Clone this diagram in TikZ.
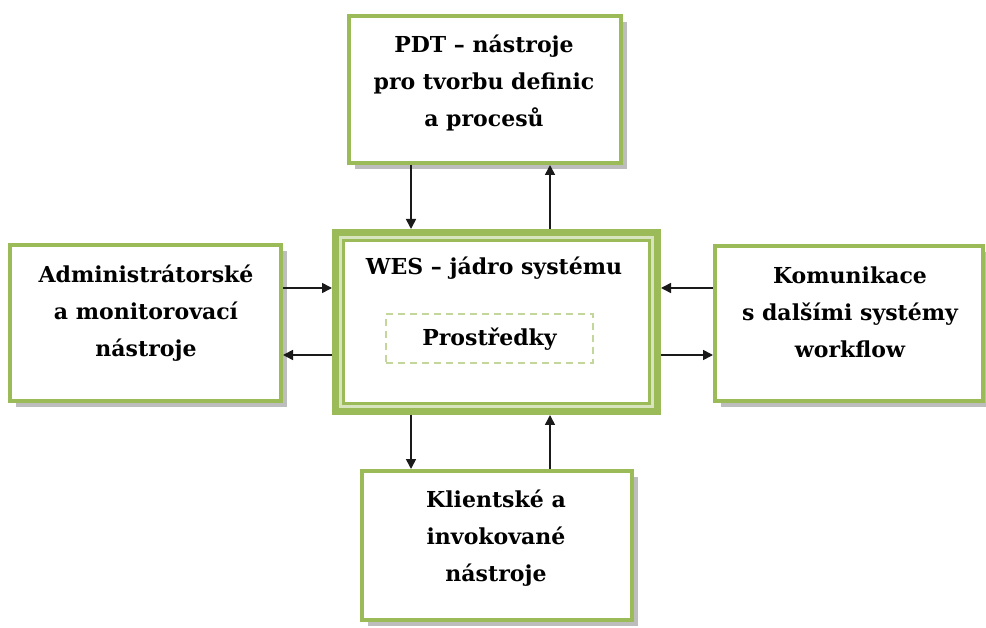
\documentclass[tikz,border=0pt]{standalone}
\usepackage{fontspec}
\setmainfont{DejaVu Serif}
\usetikzlibrary{arrows.meta,shadows}
\definecolor{wgreen}{HTML}{9BBB59}
\definecolor{wlight}{HTML}{D7E4BD}
\definecolor{wdash}{HTML}{C3D69B}
\definecolor{shgray}{HTML}{BDBDBD}
\definecolor{arrowc}{HTML}{1A1A1A}
\begin{document}
\begin{tikzpicture}[x=1pt,y=-1pt,
  gbox/.style={draw=wgreen, line width=4pt, fill=white, rectangle, inner sep=0pt},
  shbox/.style={drop shadow={shadow xshift=6pt, shadow yshift=-6pt, fill=shgray, opacity=1}},
  txt/.style={align=center, inner sep=0pt, font=\fontsize{22}{37}\selectfont\bfseries},
  arr/.style={draw=arrowc, line width=1.6pt, -{Triangle[length=10pt,width=10pt]}}
]
\useasboundingbox (0,0) rectangle (986,628);
\fill[white] (0,0) rectangle (986,628);
% boxes
\node[gbox, shbox, minimum width=272pt, minimum height=147pt] (pdt) at (485,89.5) {};
\node[gbox, shbox, minimum width=271pt, minimum height=156pt] (adm) at (145.5,323) {};
\node[gbox, shbox, minimum width=268pt, minimum height=155pt] (kom) at (849,323.5) {};
\node[gbox, shbox, minimum width=270pt, minimum height=149pt] (kli) at (497,545.5) {};
% WES double frame
\node[draw=wgreen, fill=wlight, line width=7pt, rectangle, inner sep=0pt,
      minimum width=322pt, minimum height=179pt] (wes) at (496.5,322) {};
\node[draw=wgreen, fill=white, line width=3pt, rectangle, inner sep=0pt,
      minimum width=306pt, minimum height=163pt] (wesin) at (496.5,322) {};
\node[draw=wdash, line width=2pt, dash pattern=on 7pt off 5pt, rectangle, inner sep=0pt,
      minimum width=207pt, minimum height=49pt] (prost) at (489.5,338.5) {};
% texts
\node[txt] (pdtt) at (484,83) {PDT – nástroje\\pro tvorbu definic\\a procesů};
\node[txt] (admt) at (146,313) {Administrátorské\\a monitorovací\\nástroje};
\node[txt] (komt) at (850,312) {Komunikace\\s dalšími systémy\\workflow};
\node[txt] (klit) at (496,538) {Klientské a\\invokované\\nástroje};
\node[txt] (west) at (494,268) {WES – jádro systému};
\node[txt] (prostt) at (489.5,339) {Prostředky};
% connectors
\coordinate (xa) at (411,0);
\coordinate (xb) at (550,0);
\coordinate (ya) at (0,288);
\coordinate (yb) at (0,355);
\draw[arr] (pdt.south -| xa) -- (wes.north -| xa);
\draw[arr] (wes.north -| xb) -- (pdt.south -| xb);
\draw[arr] (adm.east |- ya) -- (wes.west |- ya);
\draw[arr] (wes.west |- yb) -- (adm.east |- yb);
\draw[arr] (kom.west |- ya) -- (wes.east |- ya);
\draw[arr] (wes.east |- yb) -- (kom.west |- yb);
\draw[arr] (wes.south -| xa) -- (kli.north -| xa);
\draw[arr] (kli.north -| xb) -- (wes.south -| xb);
\end{tikzpicture}
\end{document}
